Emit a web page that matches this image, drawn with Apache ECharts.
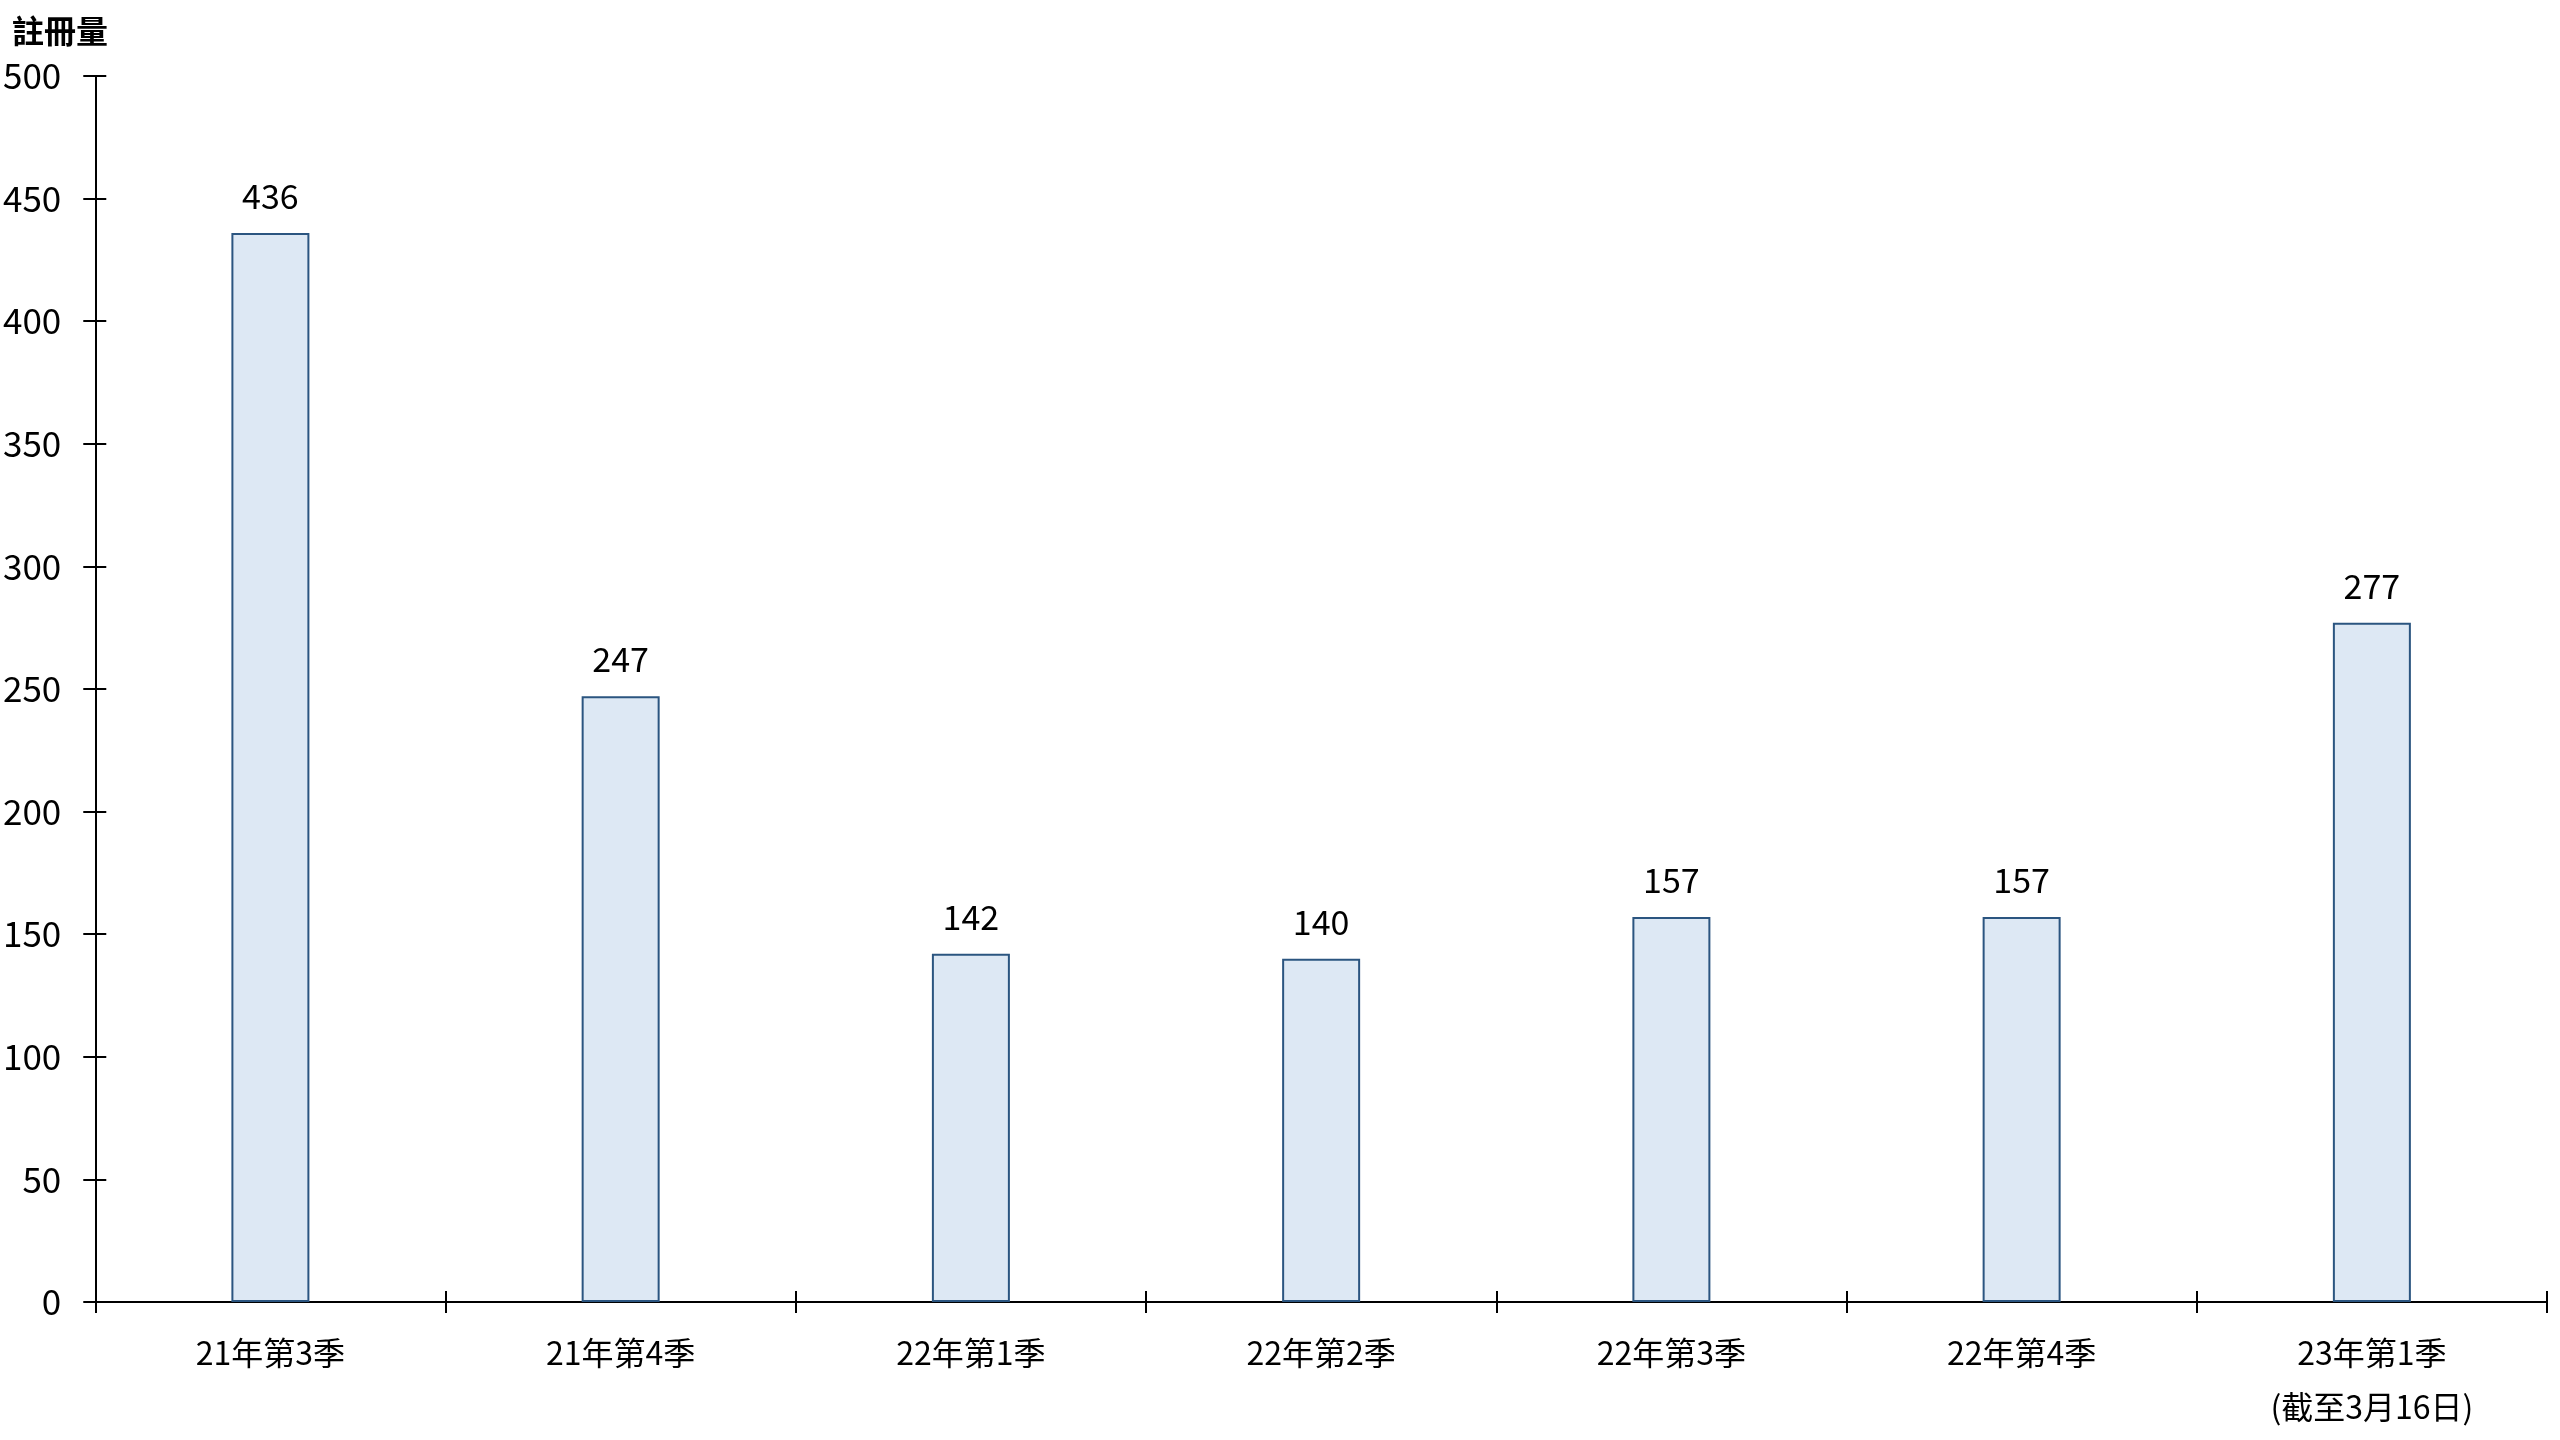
<!DOCTYPE html>
<html><head><meta charset="utf-8">
<script src="https://cdn.jsdelivr.net/npm/echarts@6/dist/echarts.min.js"></script>
<style>html,body{margin:0;padding:0;background:#fff}#c{width:2560px;height:1440px}</style>
</head><body><div id="c"></div>
<script>
var categories = ['21年第3季', '21年第4季', '22年第1季', '22年第2季', '22年第3季', '22年第4季', '23年第1季\n(截至3月16日)'];
var values = [436, 247, 142, 140, 157, 157, 277];
var yTitle = '註冊量';
var yMin = 0, yMax = 500, yStep = 50;

var FONT = '"Noto Sans CJK TC", "Noto Sans", sans-serif';
var chart = echarts.init(document.getElementById('c'), null, {renderer: 'canvas'});
var axisLine = {show: true, lineStyle: {color: '#000', width: 2}};
chart.setOption({
  animation: false,
  backgroundColor: '#fff',
  title: {text: yTitle, left: 7, top: 10, textStyle: {fontFamily: FONT, fontSize: 32, fontWeight: 'bold', color: '#000'}},
  grid: {left: 94, right: 13, top: 76, bottom: 138, containLabel: false},
  xAxis: [{
    type: 'category', data: categories, boundaryGap: true,
    axisLine: axisLine,
    axisTick: {show: true, length: 11, lineStyle: {color: '#000', width: 2}},
    axisLabel: {fontFamily: FONT, fontSize: 32, color: '#000', margin: 24, lineHeight: 54, interval: 0}
  }, {
    type: 'category', data: categories, boundaryGap: true, position: 'bottom',
    axisLine: axisLine,
    axisTick: {show: true, inside: true, length: 11, lineStyle: {color: '#000', width: 2}},
    axisLabel: {show: false}
  }],
  yAxis: [{
    type: 'value', min: yMin, max: yMax, interval: yStep,
    splitLine: {show: false},
    axisLine: axisLine,
    axisTick: {show: true, length: 12, lineStyle: {color: '#000', width: 2}},
    axisLabel: {fontFamily: FONT, fontSize: 35, color: '#000', margin: 34}
  }, {
    type: 'value', min: yMin, max: yMax, interval: yStep, position: 'left',
    splitLine: {show: false},
    axisLine: axisLine,
    axisTick: {show: true, inside: true, length: 11, lineStyle: {color: '#000', width: 2}},
    axisLabel: {show: false}
  }],
  series: [{
    type: 'bar', data: values, barWidth: 78,
    itemStyle: {color: '#dde8f4', borderColor: '#2b5580', borderWidth: 2},
    label: {show: true, position: 'top', distance: 20, fontFamily: FONT, fontSize: 34, color: '#000'}
  }]
});
</script></body></html>
